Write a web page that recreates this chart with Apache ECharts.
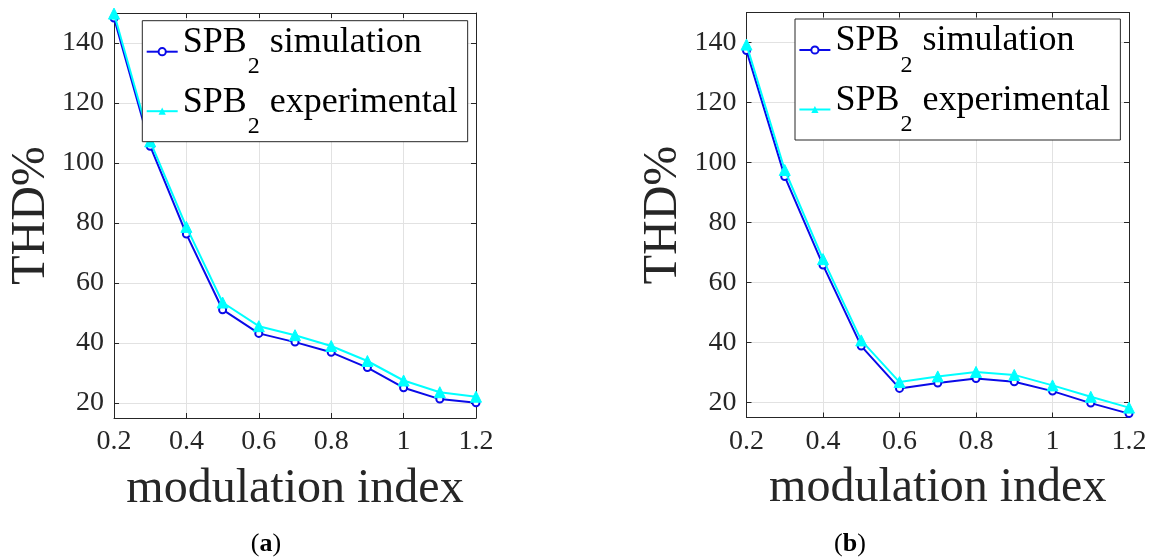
<!DOCTYPE html>
<html><head><meta charset="utf-8">
<script src="https://cdn.jsdelivr.net/npm/echarts@6/dist/echarts.min.js"></script>
<style>html,body{margin:0;padding:0;background:#fff}#c{width:1153px;height:559px}</style>
</head><body><div id="c"></div>
<script>
// ---- data ----
const modIndex = [0.2, 0.3, 0.4, 0.5, 0.6, 0.7, 0.8, 0.9, 1.0, 1.1, 1.2];
const simA = [148.3, 105.6, 76.3, 51.1, 43.2, 40.3, 36.9, 31.8, 25.1, 21.3, 20.1];
const expA = [149.8, 107.2, 78.7, 53.5, 45.6, 42.6, 39.0, 34.0, 27.5, 23.6, 22.1];
const simB = [137.3, 95.3, 65.8, 38.8, 24.7, 26.5, 28.0, 26.9, 23.8, 19.8, 16.3];
const expB = [139.3, 97.5, 67.8, 40.7, 26.8, 28.7, 30.2, 29.2, 25.7, 21.9, 18.3];
const yTicks = [20, 40, 60, 80, 100, 120, 140];
const seriesNames = ['SPB2 simulation', 'SPB2 experimental'];
const captions = ['a', 'b'];
const xName = 'modulation index';
const yName = 'THD%';

const SERIF = 'Liberation Serif';
const AX = '#262626';
const GRID = '#e2e2e2';
const BLUE = '#0a0ae8';
const CYAN = '#00ffff';

const grids = [
  {left: 114, top: 13, width: 362, height: 405},
  {left: 746.5, top: 12.5, width: 382.5, height: 405}
];
const legendPos = [
  {left: 142.3, top: 20.7},
  {left: 795, top: 19}
];
const captionPos = [266, 850];

function pair(xs, ys) { return xs.map((x, i) => [x, ys[i]]); }

const xAxes = [], yAxes = [], series = [], legends = [], graphics = [];
grids.forEach((g, gi) => {
  xAxes.push({
    type: 'value', gridIndex: gi, position: 'bottom', min: 0.2, max: 1.2, interval: 0.2,
    name: xName, nameLocation: 'middle', nameGap: 47,
    nameTextStyle: {fontFamily: SERIF, fontSize: 48, color: AX},
    axisLine: {show: true, lineStyle: {color: AX, width: 1}},
    axisTick: {show: true, inside: true, length: 5, lineStyle: {color: AX}},
    axisLabel: {show: true, margin: 10, fontFamily: SERIF, fontSize: 28, color: AX,
      formatter: v => String(+(+v).toFixed(1))},
    splitLine: {show: true, lineStyle: {color: GRID, width: 1}}
  });
  xAxes.push({
    type: 'value', gridIndex: gi, position: 'top', min: 0.2, max: 1.2, interval: 0.2,
    axisLine: {show: true, lineStyle: {color: AX, width: 1}},
    axisTick: {show: true, inside: true, length: 5, lineStyle: {color: AX}},
    axisLabel: {show: false}, splitLine: {show: false}
  });
  yAxes.push({
    type: 'value', gridIndex: gi, position: 'left', min: 15, max: 150,
    name: yName, nameLocation: 'middle', nameGap: 59,
    nameTextStyle: {fontFamily: SERIF, fontSize: 48, color: AX},
    axisLine: {show: true, lineStyle: {color: AX, width: 1}},
    axisTick: {show: true, inside: true, length: 5, lineStyle: {color: AX}, customValues: yTicks},
    axisLabel: {show: true, margin: 10, fontFamily: SERIF, fontSize: 28, color: AX, customValues: yTicks},
    splitLine: {show: true, lineStyle: {color: GRID, width: 1}}
  });
  yAxes.push({
    type: 'value', gridIndex: gi, position: 'right', min: 15, max: 150,
    axisLine: {show: true, lineStyle: {color: AX, width: 1}},
    axisTick: {show: true, inside: true, length: 5, lineStyle: {color: AX}, customValues: yTicks},
    axisLabel: {show: false, customValues: yTicks}, splitLine: {show: false}
  });
  const sim = gi === 0 ? simA : simB;
  const exp = gi === 0 ? expA : expB;
  series.push({
    name: seriesNames[0], type: 'line', xAxisIndex: gi * 2, yAxisIndex: gi * 2,
    data: pair(modIndex, sim), symbol: 'emptyCircle', symbolSize: 7,
    lineStyle: {color: BLUE, width: 2}, itemStyle: {color: BLUE, borderColor: BLUE, borderWidth: 1.8},
    z: 2
  });
  series.push({
    name: seriesNames[1], type: 'line', xAxisIndex: gi * 2, yAxisIndex: gi * 2,
    data: pair(modIndex, exp), symbol: 'triangle', symbolSize: 11,
    lineStyle: {color: CYAN, width: 2}, itemStyle: {color: CYAN, borderColor: CYAN},
    z: 3
  });
  legends.push({
    orient: 'vertical', left: legendPos[gi].left, top: legendPos[gi].top,
    data: seriesNames, itemWidth: 31, itemHeight: 9, itemGap: 5,
    padding: [4, 10, 3, 3.4],
    backgroundColor: '#fff', borderColor: AX, borderWidth: 1, borderRadius: 0,
    selectedMode: false,
    formatter: n => '{m|SPB}{s|2}{m|' + n.replace('SPB2', '') + '}',
    textStyle: {
      color: '#000',
      rich: {
        m: {fontFamily: SERIF, fontSize: 36, lineHeight: 54, verticalAlign: 'top', color: '#000'},
        s: {fontFamily: SERIF, fontSize: 24, lineHeight: 24, verticalAlign: 'top', padding: [30.5, 1, 0, 1], color: '#000'}
      }
    },
    z: 10
  });
  graphics.push({
    type: 'text', x: captionPos[gi], y: 544,
    style: {
      text: '{p|(}{b|' + captions[gi] + '}{p|)}',
      align: 'center', verticalAlign: 'middle',
      rich: {
        p: {fontFamily: SERIF, fontSize: 26, color: '#000'},
        b: {fontFamily: SERIF, fontSize: 26, fontWeight: 'bold', color: '#000'}
      }
    }
  });
});

const chart = echarts.init(document.getElementById('c'), null, {renderer: 'canvas'});
chart.setOption({
  animation: false,
  backgroundColor: '#fff',
  grid: grids.map(g => Object.assign({containLabel: false}, g)),
  xAxis: xAxes, yAxis: yAxes, series: series, legend: legends,
  graphic: graphics
});
</script></body></html>
